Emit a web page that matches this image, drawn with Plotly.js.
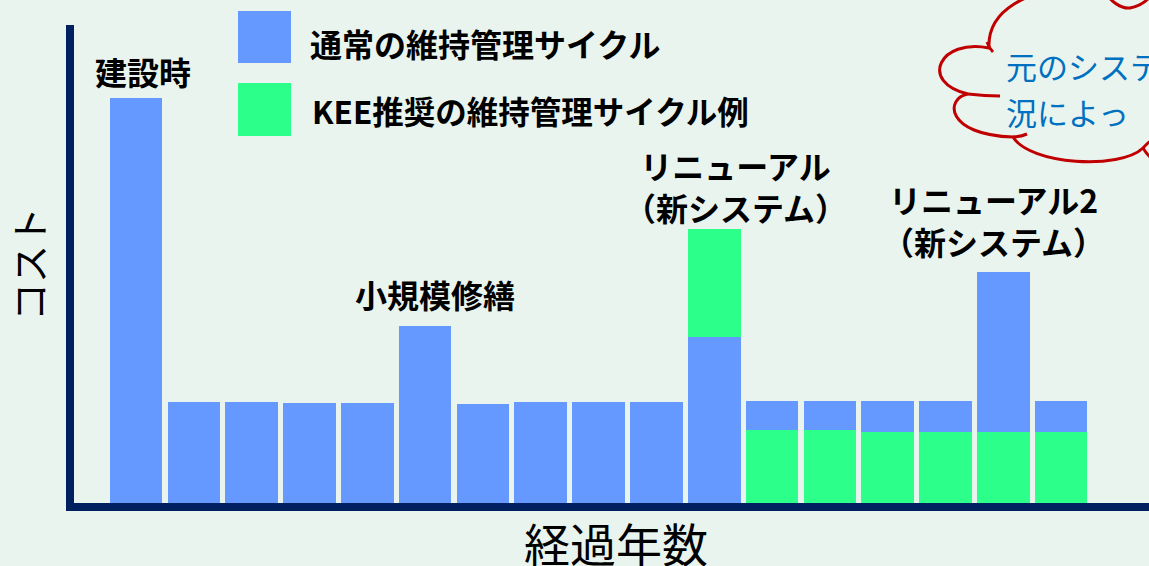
<!DOCTYPE html>
<html>
<head>
<meta charset="utf-8">
<script src="https://cdn.plot.ly/plotly-3.0.1.min.js"></script>
<style>
html, body { margin: 0; padding: 0; background: #EAF4EE; }
#chart { width: 1149px; height: 566px; }
</style>
</head>
<body>
<div id="chart"></div>
<script>
// ---- data ----
const years = [1, 2, 3, 4, 5, 6, 7, 8, 9, 10, 11, 12, 13, 14, 15, 16, 17];
// normal maintenance cost (bottom part, years 1-11)
const normalCost = [100, 24.9, 24.9, 24.7, 24.7, 43.7, 24.4, 24.9, 24.9, 24.9, 41.0, null, null, null, null, null, null];
// KEE recommended cycle
const keeCost = [null, null, null, null, null, null, null, null, null, null, 26.7, 18.0, 18.0, 17.5, 17.5, 17.5, 17.5];
// normal maintenance cost stacked above KEE (years 12-17)
const normalCostAfterKee = [null, null, null, null, null, null, null, null, null, null, null, 7.2, 7.2, 7.7, 7.7, 39.5, 7.7];

const seriesNames = ['通常の維持管理サイクル', 'KEE推奨の維持管理サイクル例'];
const eventYears = [1, 6, 11, 16];
const eventLabels = ['建設時', '小規模修繕', 'リニューアル<br>（新システム）', 'リニューアル2<br>（新システム）'];
const cloudLines = ['元のシステ', '況によっ'];
const xTitle = '経過年数';
const yTitle = 'コスト';

// ---- style ----
const BLUE = '#6699FF';
const GREEN = '#2CFF8A';
const AXIS = '#002060';
const BG = '#EAF4EE';
const FONT = '"Noto Sans CJK JP", "Noto Sans", sans-serif';

const M = { l: 74, r: 0, t: 25, b: 63 };
const W = 1149, H = 566;
const plotW = W - M.l - M.r, plotH = H - M.t - M.b;
const PX = x => (x - M.l) / plotW;
const PY = y => (H - M.b - y) / plotH;
const P = (x, y) => PX(x).toFixed(5) + ',' + PY(y).toFixed(5);

const traces = [
  { type: 'bar', x: years, y: normalCost, name: seriesNames[0], marker: { color: BLUE, line: { width: 0 } }, hoverinfo: 'x+y+name' },
  { type: 'bar', x: years, y: keeCost, name: seriesNames[1], marker: { color: GREEN, line: { width: 0 } }, hoverinfo: 'x+y+name' },
  { type: 'bar', x: years, y: normalCostAfterKee, name: seriesNames[0], marker: { color: BLUE, line: { width: 0 } }, hoverinfo: 'x+y+name' }
];

const totals = years.map((_, i) => (normalCost[i] || 0) + (keeCost[i] || 0) + (normalCostAfterKee[i] || 0));

const labelStyle = [
  { xshift: 7, yshift: 2 },
  { xshift: 10, yshift: 7 },
  { xshift: 21, yshift: -3 },
  { xshift: -10, yshift: 6 }
];

const annotations = eventYears.map((yr, k) => ({
  x: yr, y: totals[years.indexOf(yr)], xref: 'x', yref: 'y',
  text: eventLabels[k], showarrow: false, xanchor: 'center', yanchor: 'bottom',
  xshift: labelStyle[k].xshift, yshift: labelStyle[k].yshift,
  font: { family: FONT, size: 32, color: '#000', weight: 700 }, align: 'center'
}));

// legend (drawn as squares + text)
annotations.push(
  { xref: 'paper', yref: 'paper', x: PX(308), y: PY(43), text: seriesNames[0], showarrow: false, xanchor: 'left', yanchor: 'middle',
    font: { family: FONT, size: 32, color: '#000', weight: 700 } },
  { xref: 'paper', yref: 'paper', x: PX(310), y: PY(110), text: seriesNames[1], showarrow: false, xanchor: 'left', yanchor: 'middle',
    font: { family: FONT, size: 31.5, color: '#000', weight: 700 } }
);
// x-axis title (placed as annotation so it can sit lower than the margin allows)
annotations.push({
  xref: 'paper', yref: 'paper', x: PX(616), y: PY(542), text: xTitle, showarrow: false, xanchor: 'center', yanchor: 'middle',
  font: { family: FONT, size: 46, color: '#000' }
});
// cloud text
cloudLines.forEach((t, i) => annotations.push({
  xref: 'paper', yref: 'paper', x: PX(1004), y: PY([65, 112][i]), text: t, showarrow: false, xanchor: 'left', yanchor: 'middle',
  font: { family: FONT, size: 31, color: '#0070C0' }
}));

const cloudPath = [
  'M', P(1070, -14),
  'C', P(1030, -8), P(987, 8), P(989, 48),
  'C', P(940, 38), P(918, 82), P(968, 94),
  'C', P(945, 98), P(945, 135), P(1013, 137),
  'C', P(1030, 165), P(1120, 170), P(1143, 148),
  'C', P(1150, 140), P(1160, 133), P(1175, 130)
].join(' ');
const cloudTails = [
  ['M', P(987, 42), 'Q', P(989, 48), P(993, 52)],
  ['M', P(968, 94), 'Q', P(985, 96), P(1000, 96)],
  ['M', P(1013, 137), 'Q', P(1020, 137), P(1027, 134)],
  ['M', P(1143, 148), 'Q', P(1146, 153), P(1150, 157)],
  ['M', P(1104, -10), 'C', P(1110, 2), P(1122, 9), P(1130, 8), 'C', P(1140, 6), P(1148, 0), P(1152, -6)]
].map(a => a.join(' '));

const shapes = [
  { type: 'rect', xref: 'paper', yref: 'paper', x0: PX(238), x1: PX(291), y0: PY(63), y1: PY(11), fillcolor: BLUE, line: { width: 0 } },
  { type: 'rect', xref: 'paper', yref: 'paper', x0: PX(238), x1: PX(291), y0: PY(136), y1: PY(83), fillcolor: GREEN, line: { width: 0 } },
  { type: 'path', xref: 'paper', yref: 'paper', path: cloudPath, line: { color: '#C00000', width: 3 } }
].concat(cloudTails.map(p => ({ type: 'path', xref: 'paper', yref: 'paper', path: p, line: { color: '#C00000', width: 3 } })));

const layout = {
  width: W, height: H, margin: M,
  paper_bgcolor: BG, plot_bgcolor: BG,
  barmode: 'stack', bargap: 0.09,
  showlegend: false,
  font: { family: FONT, color: '#000' },
  xaxis: {
    range: [-0.0725, 18.52], showline: true, linewidth: 8, linecolor: AXIS,
    showticklabels: false, ticks: '', showgrid: false, zeroline: false, fixedrange: true
  },
  yaxis: {
    range: [0, 118], showline: true, linewidth: 8, linecolor: AXIS,
    showticklabels: false, ticks: '', showgrid: false, zeroline: false, fixedrange: true,
    title: { text: yTitle, font: { family: FONT, size: 38, color: '#000' }, standoff: 18 }
  },
  annotations: annotations,
  shapes: shapes
};

Plotly.newPlot('chart', traces, layout, { displayModeBar: false, staticPlot: true });
</script>
</body>
</html>
